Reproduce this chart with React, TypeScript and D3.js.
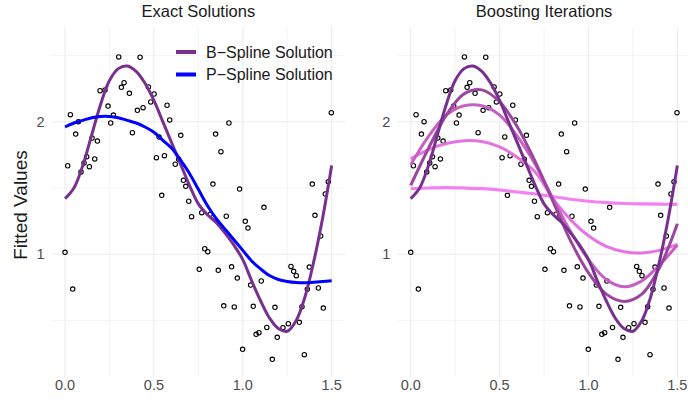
import React from 'react';
import * as d3 from 'd3';

// observed data (x, y)
const pointX = [0.302, 0.422, 0.332, 0.317, 0.197, 0.225, 0.362, 0.469, 0.501, 0.482, 0.242, 0.272, 0.257, 0.407, 0.439, 0.574, 0.589, 0.03, 0.06, 0.075, 0.152, 0.182, 0.379, 0.529, 0.651, 0.015, 0.122, 0.167, 0.107, 0.137, 0.09, 0.514, 0.559, 0.62, 0.639, 0.666, 0.679, 0.544, 0.696, 0.712, 1.498, 0.922, 0.847, 0.877, 0.832, 0.982, 1.391, 1.481, 1.464, 1.119, 0.769, 0.817, 0.907, 1.014, 1.029, 1.406, 1.438, 0.786, 0.803, 0.755, 0.862, 0.937, 0.969, 1.044, 1.104, 1.271, 1.286, 1.301, 1.374, 1.363, 1.425, 0.893, 0.952, 1.059, 1.181, 1.333, 1.453, 1.135, 1.075, 1.091, 1.226, 1.256, 1.318, 1.194, 0.999, 1.166, 1.346, 0.0, 0.043];
const pointY = [2.488, 2.486, 2.294, 2.259, 2.234, 2.239, 2.214, 2.262, 2.209, 2.149, 2.118, 2.05, 1.99, 2.086, 2.106, 2.124, 2.013, 2.053, 1.907, 2.0, 1.877, 1.854, 1.917, 1.885, 1.897, 1.668, 1.736, 1.719, 1.689, 1.661, 1.621, 1.729, 1.744, 1.679, 1.716, 1.558, 1.513, 1.445, 1.4, 1.284, 2.068, 1.99, 1.907, 1.774, 1.53, 1.492, 1.53, 1.548, 1.455, 1.354, 1.314, 1.302, 1.287, 1.249, 1.198, 1.294, 1.138, 1.042, 1.02, 0.887, 0.879, 0.906, 0.821, 0.768, 0.799, 0.909, 0.872, 0.839, 0.904, 0.736, 0.746, 0.612, 0.603, 0.608, 0.6, 0.605, 0.595, 0.449, 0.397, 0.409, 0.447, 0.477, 0.487, 0.374, 0.284, 0.208, 0.243, 1.015, 0.738];

// exact solutions, sampled every 0.05
const fineX = [0, 0.05, 0.1, 0.15, 0.2, 0.25, 0.3, 0.35, 0.4, 0.45, 0.5, 0.55, 0.6, 0.65, 0.7, 0.75, 0.8, 0.85, 0.9, 0.95, 1.0, 1.05, 1.1, 1.15, 1.2, 1.25, 1.3, 1.35, 1.4, 1.45, 1.5];
const bSpline = [1.42, 1.5, 1.67, 1.9, 2.13, 2.31, 2.4, 2.42, 2.38, 2.29, 2.16, 2.0, 1.84, 1.68, 1.52, 1.38, 1.3, 1.24, 1.16, 1.07, 0.96, 0.8, 0.65, 0.52, 0.44, 0.42, 0.5, 0.68, 0.95, 1.28, 1.67];
const pSpline = [1.96, 1.99, 2.01, 2.03, 2.04, 2.04, 2.03, 2.01, 1.99, 1.96, 1.92, 1.86, 1.8, 1.71, 1.61, 1.49, 1.37, 1.27, 1.19, 1.11, 1.03, 0.95, 0.89, 0.84, 0.81, 0.795, 0.787, 0.785, 0.79, 0.795, 0.8];

// boosting iterations, sampled every 0.1
const coarseX = [0, 0.1, 0.2, 0.3, 0.4, 0.5, 0.6, 0.7, 0.8, 0.9, 1.0, 1.1, 1.2, 1.3, 1.4, 1.5];
const iter1 = [1.495, 1.5, 1.503, 1.5, 1.495, 1.485, 1.47, 1.455, 1.435, 1.415, 1.4, 1.39, 1.383, 1.38, 1.378, 1.377];
const iter2 = [1.72, 1.79, 1.835, 1.857, 1.85, 1.81, 1.73, 1.62, 1.42, 1.26, 1.14, 1.06, 1.02, 1.01, 1.03, 1.075];
const iter3 = [1.675, 1.89, 2.05, 2.12, 2.12, 2.05, 1.89, 1.68, 1.42, 1.17, 0.96, 0.81, 0.755, 0.8, 0.92, 1.07];
const iter4 = [1.52, 1.8, 2.05, 2.21, 2.24, 2.15, 1.96, 1.7, 1.4, 1.1, 0.86, 0.7, 0.645, 0.7, 0.9, 1.23];

const xTicks = [0, 0.5, 1.0, 1.5];
const xMinor = [0.25, 0.75, 1.25];
const yTicks = [1, 2];
const yMinor = [0.5, 1.5, 2.5];

const FONT = '"Liberation Sans", Arial, Helvetica, sans-serif';
const GRID = '#EBEBEB';
const TICK = '#4D4D4D';

const PANEL_TOP = 27;
const PANEL_BOTTOM = 377;

const yScale = d3.scaleLinear().domain([0.075, 2.714]).range([PANEL_BOTTOM, PANEL_TOP]);

type Curve = { xs: number[]; ys: number[]; color: string; width: number };

const Panel = ({ left, right, title, curves, legend }: { left: number; right: number; title: string; curves: Curve[]; legend?: boolean }) => {
  const x = d3.scaleLinear().domain([-0.075, 1.575]).range([left, right]);
  const line = d3.line<number>().curve(d3.curveCatmullRom.alpha(0.5));

  return (
    <g>
      {/* grid */}
      {yMinor.map(v => (
        <line key={'ym' + v} x1={left} x2={right} y1={yScale(v)} y2={yScale(v)} stroke={GRID} strokeWidth={0.6} />
      ))}
      {xMinor.map(v => (
        <line key={'xm' + v} x1={x(v)} x2={x(v)} y1={PANEL_TOP} y2={PANEL_BOTTOM} stroke={GRID} strokeWidth={0.6} />
      ))}
      {yTicks.map(v => (
        <line key={'y' + v} x1={left} x2={right} y1={yScale(v)} y2={yScale(v)} stroke={GRID} strokeWidth={1.1} />
      ))}
      {xTicks.map(v => (
        <line key={'x' + v} x1={x(v)} x2={x(v)} y1={PANEL_TOP} y2={PANEL_BOTTOM} stroke={GRID} strokeWidth={1.1} />
      ))}

      {/* tick labels */}
      {xTicks.map(v => (
        <text key={'xl' + v} x={x(v)} y={390} textAnchor="middle" fontSize={14.5} fill={TICK} fontFamily={FONT}>
          {d3.format('.1f')(v)}
        </text>
      ))}
      {yTicks.map(v => (
        <text key={'yl' + v} x={left - 7} y={yScale(v) + 5} textAnchor="end" fontSize={14.5} fill={TICK} fontFamily={FONT}>
          {v}
        </text>
      ))}

      <text x={(left + right) / 2} y={17} textAnchor="middle" fontSize={16.5} fill="#1a1a1a" fontFamily={FONT}>
        {title}
      </text>

      {/* points */}
      {pointX.map((px, i) => (
        <circle key={'p' + i} cx={x(px)} cy={yScale(pointY[i])} r={2.2} fill="none" stroke="#000" strokeWidth={1.1} />
      ))}

      {/* curves */}
      {curves.map((c, i) => (
        <path
          key={'c' + i}
          d={line.x((_, j) => x(c.xs[j])).y(d => yScale(d))(c.ys) || ''}
          fill="none"
          stroke={c.color}
          strokeWidth={c.width}
          strokeLinecap="butt"
        />
      ))}

      {legend && (
        <g fontFamily={FONT} fontSize={16} fill="#1a1a1a">
          <line x1={176} x2={196} y1={52} y2={52} stroke={curves[0].color} strokeWidth={4} />
          <text x={206} y={57.5}>B−Spline Solution</text>
          <line x1={176} x2={196} y1={74.5} y2={74.5} stroke={curves[1].color} strokeWidth={4} />
          <text x={206} y={80}>P−Spline Solution</text>
        </g>
      )}
    </g>
  );
};

const PURPLE = '#77308E';

export default function App() {
  const exact: Curve[] = [
    { xs: fineX, ys: bSpline, color: PURPLE, width: 3 },
    { xs: fineX, ys: pSpline, color: '#0000FF', width: 3 },
  ];
  const boost: Curve[] = [
    { xs: coarseX, ys: iter1, color: '#F282F0', width: 3.2 },
    { xs: coarseX, ys: iter2, color: '#E574E2', width: 3 },
    { xs: coarseX, ys: iter3, color: '#C660C2', width: 3 },
    { xs: coarseX, ys: iter4, color: '#9B469E', width: 3 },
    { xs: fineX, ys: bSpline, color: PURPLE, width: 3 },
  ];

  return (
    <svg width={688} height={404} style={{ position: 'absolute', left: 0, top: 0, background: '#fff' }}>
      <rect width={688} height={404} fill="#fff" />
      <Panel left={51.7} right={345} title="Exact Solutions" curves={exact} legend />
      <Panel left={397.4} right={690.7} title="Boosting Iterations" curves={boost} />
      <text
        transform={`translate(27, ${(PANEL_TOP + PANEL_BOTTOM) / 2 + 3}) rotate(-90)`}
        textAnchor="middle"
        fontSize={19}
        fill="#1a1a1a"
        fontFamily={FONT}
      >
        Fitted Values
      </text>
    </svg>
  );
}
